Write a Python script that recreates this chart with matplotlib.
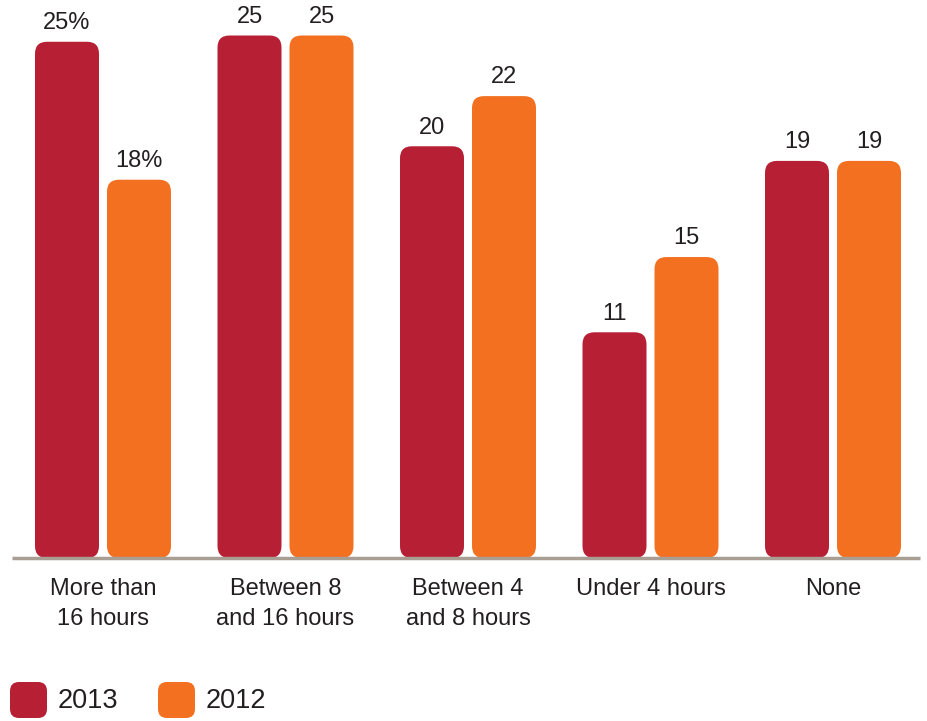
import matplotlib
matplotlib.use("Agg")
import matplotlib.pyplot as plt
from matplotlib.patches import FancyBboxPatch

categories = ["More than\n16 hours", "Between 8\nand 16 hours", "Between 4\nand 8 hours", "Under 4 hours", "None"]
series_names = ["2013", "2012"]
values_2013 = [24.7, 25, 19.7, 10.8, 19]
values_2012 = [18.1, 25, 22.1, 14.4, 19]
labels_2013 = ["25%", "25", "20", "11", "19"]
labels_2012 = ["18%", "25", "22", "15", "19"]

RED = "#b71f34"
ORANGE = "#f37021"
TEXT = "#231f20"
AXIS = "#a99e93"

plt.rcParams["font.family"] = ["Liberation Sans", "DejaVu Sans"]

W, H = 927, 721
fig = plt.figure(figsize=(W / 100, H / 100), dpi=100)

base_px = 558
px_per_unit_y = 20.9
pitch = 182.5
c0 = 103.0
left_px, right_px = 12, 920

ax = fig.add_axes([left_px / W, (H - base_px) / H, (right_px - left_px) / W, base_px / H])
ax.set_xlim((left_px - c0) / pitch, (right_px - c0) / pitch)
ax.set_ylim(0, base_px / px_per_unit_y)
ax.axis("off")

bw = 64 / pitch
off = 36 / pitch
r = 12 / pitch
aspect = pitch / px_per_unit_y

for i, cat in enumerate(categories):
    for vals, labs, col, sgn in ((values_2013, labels_2013, RED, -1), (values_2012, labels_2012, ORANGE, 1)):
        x = i + sgn * off
        v = vals[i]
        p = FancyBboxPatch((x - bw / 2, 0), bw, v,
                           boxstyle=f"round,pad=0,rounding_size={r}",
                           mutation_aspect=aspect, facecolor=col, edgecolor="none")
        ax.add_patch(p)
        ax.annotate(labs[i], (x, v), xytext=(0, 5.5), textcoords="offset points",
                    ha="center", va="bottom", fontsize=17, color=TEXT)
    ax.annotate(cat, (i, 0), xytext=(0, -14.5), textcoords="offset points",
                ha="center", va="top", fontsize=17, color=TEXT, linespacing=1.45,
                annotation_clip=False)

ax.plot([ax.get_xlim()[0], ax.get_xlim()[1]], [0, 0], color=AXIS, lw=2.5,
        solid_capstyle="butt", clip_on=False, zorder=5)

# legend in pixel overlay
lax = fig.add_axes([0, 0, 1, 1])
lax.set_xlim(0, W)
lax.set_ylim(H, 0)
lax.axis("off")
for (x0, name, col) in ((10, series_names[0], RED), (158, series_names[1], ORANGE)):
    sq = FancyBboxPatch((x0, 682), 37, 36, boxstyle="round,pad=0,rounding_size=9",
                        facecolor=col, edgecolor="none")
    lax.add_patch(sq)
    lax.text(x0 + 48, 701, name, ha="left", va="center", fontsize=19.5, color=TEXT)

fig.savefig("out.png", dpi=100)
